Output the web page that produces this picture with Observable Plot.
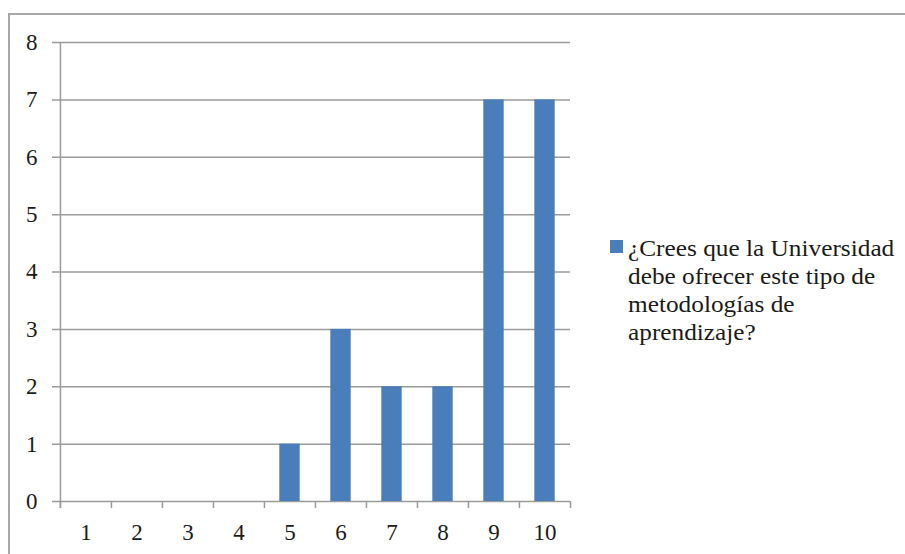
<!DOCTYPE html>
<html>
<head>
<meta charset="utf-8">
<script src="https://cdn.jsdelivr.net/npm/d3@7"></script>
<script src="https://cdn.jsdelivr.net/npm/@observablehq/plot@0.6"></script>
<style>
  html, body { margin: 0; padding: 0; background: #fff; }
  #wrap { position: relative; width: 905px; height: 554px; overflow: hidden; }
  #border { position: absolute; left: 8px; top: 13px; width: 1000px; height: 1000px;
    border-top: 2px solid #a6a6a6; border-left: 2px solid #a6a6a6; box-sizing: border-box; }
  #legend { position: absolute; left: 610px; top: 235px; font-family: "Liberation Serif", "Times New Roman", serif;
    font-size: 23px; line-height: 28px; color: #1a1a1a; }
  #legend .sw { position: absolute; left: 0; top: 5px; width: 13px; height: 13px; background: #4a7ebb; }
  #legend .txt { position: absolute; left: 18px; top: 0; white-space: nowrap; transform: scaleX(1.1); transform-origin: 0 0; }
  svg { position: absolute; left: 0; top: 0; }
  svg text { font-family: "Liberation Serif", "Times New Roman", serif; }
</style>
</head>
<body>
<div id="wrap">
  <div id="border"></div>
  <div id="chart"></div>
  <div id="legend"><span class="sw"></span><span class="txt">¿Crees que la Universidad<br>debe ofrecer este tipo de<br>metodologías de<br>aprendizaje?</span></div>
</div>
<script>
const categories = ["1", "2", "3", "4", "5", "6", "7", "8", "9", "10"];
const values = [0, 0, 0, 0, 1, 3, 2, 2, 7, 7];
const yTicks = [0, 1, 2, 3, 4, 5, 6, 7, 8];
const seriesName = "¿Crees que la Universidad debe ofrecer este tipo de metodologías de aprendizaje?";

const data = categories.map((c, i) => ({category: c, value: values[i]}));

const W = 905, H = 554;
const mL = 59, mR = 335, mT = 42, mB = 53;
const bw = (W - mL - mR) / categories.length;
const grid = "#9a9a9a";

const chart = Plot.plot({
  width: W,
  height: H,
  marginLeft: mL,
  marginRight: mR,
  marginTop: mT,
  marginBottom: mB,
  style: {fontFamily: "'Liberation Serif', 'Times New Roman', serif", fontSize: "23px", color: "#1a1a1a", background: "transparent"},
  x: {domain: categories, padding: 0, label: null},
  y: {domain: [0, 8], label: null},
  marks: [
    Plot.ruleY(yTicks, {y: d => d, stroke: grid, strokeWidth: 1.5, insetLeft: -7}),
    Plot.ruleX([categories[0]], {x: d => d, y1: 8, y2: 0, dx: -bw / 2, stroke: grid, strokeWidth: 1.5, insetBottom: -7}),
    Plot.axisX({tickSize: 7, text: null, dx: -bw / 2, stroke: grid, strokeWidth: 1.5}),
    Plot.axisX([categories[categories.length - 1]], {tickSize: 7, text: null, dx: bw / 2, stroke: grid, strokeWidth: 1.5}),
    Plot.axisX({tickSize: 0, tickPadding: 22, fontSize: 23, label: null}),
    Plot.axisY(yTicks, {tickSize: 0, tickPadding: 22, fontSize: 23, label: null, tickFormat: d3.format("d")}),
    Plot.barY(data, {x: "category", y: "value", fill: "#4a7ebb", insetLeft: 15.3, insetRight: 15.3, title: d => seriesName})
  ]
});
document.getElementById("chart").appendChild(chart);
</script>
</body>
</html>
